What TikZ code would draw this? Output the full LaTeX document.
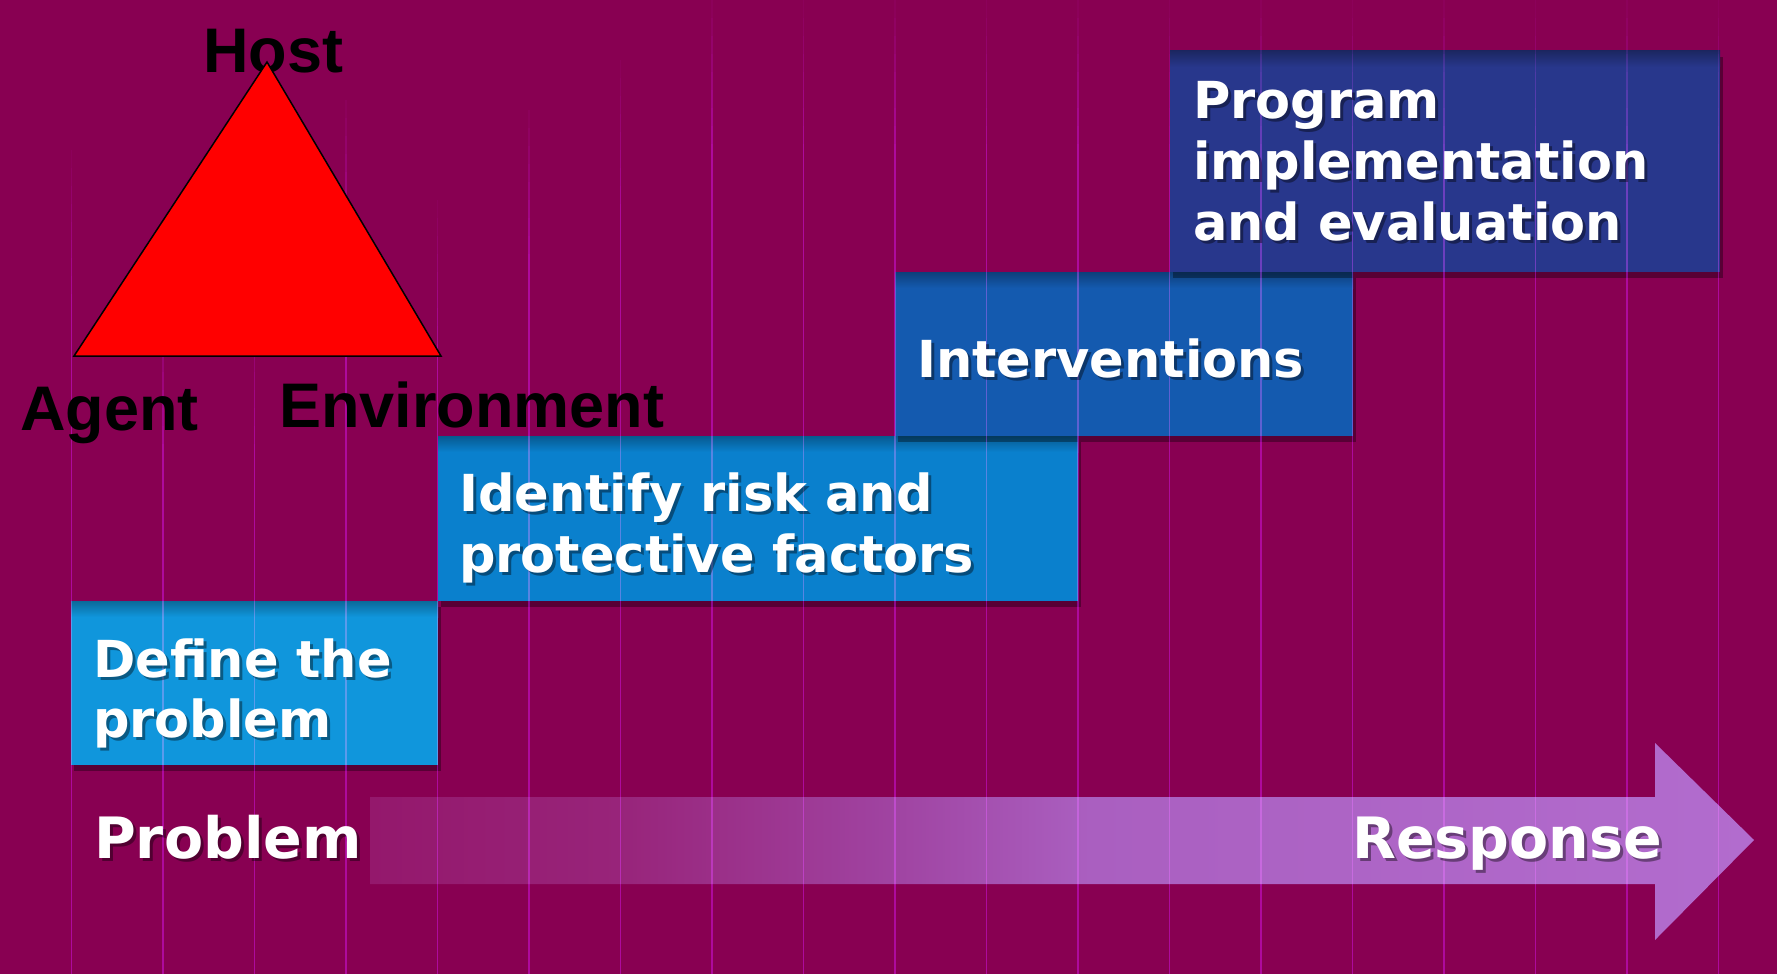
\documentclass[tikz,border=0pt]{standalone}
\usepackage{fontspec}
\newfontfamily\stepfont{DejaVu Sans}
\newfontfamily\labelfont{Liberation Sans}
\usetikzlibrary{shadows}

\definecolor{bg}{RGB}{136,0,82}
\definecolor{boxA}{RGB}{16,150,220}
\definecolor{boxB}{RGB}{10,128,205}
\definecolor{boxC}{RGB}{20,90,175}
\definecolor{boxD}{RGB}{40,55,140}
\definecolor{stripe}{RGB}{80,10,110}
\definecolor{arrowL}{RGB}{148,24,108}
\definecolor{arrowK}{RGB}{152,36,122}
\definecolor{arrowM}{RGB}{160,68,162}
\definecolor{arrowN}{RGB}{170,95,192}
\definecolor{arrowR}{RGB}{178,108,206}

\pgfdeclarehorizontalshading{arrowfade}{100bp}{color(0bp)=(arrowL); color(25bp)=(arrowL); color(34bp)=(arrowK); color(44bp)=(arrowM); color(51bp)=(arrowN); color(75bp)=(arrowR); color(100bp)=(arrowR)}

% white step label with a dark drop shadow: [style] name, x, baseline y, text
\newcommand{\steplabel}[5][steptext]{%
  \node[#1, text=black, text opacity=.4] (#2-shadow) at (#3+3,#4+3) {#5};
  \node[#1] (#2) at (#3,#4) {#5};}

\begin{document}
\begin{tikzpicture}[x=1pt,y=-1pt,
  stepbox/.style={rectangle, inner sep=0pt, outer sep=0pt, anchor=north west, draw=none,
    drop shadow={shadow xshift=3pt, shadow yshift=-6pt, opacity=.35, fill=black}},
  steptext/.style={text=white, inner sep=0pt, anchor=base west,
    font=\stepfont\bfseries\fontsize{51}{61}\selectfont},
  endtext/.style={steptext, font=\stepfont\bfseries\fontsize{57}{66}\selectfont},
  triangletext/.style={text=black, inner sep=0pt, anchor=base west,
    font=\labelfont\bfseries\fontsize{63}{70}\selectfont},
  stripeline/.style={draw=stripe, line width=1.7pt}]

\useasboundingbox (0,0) rectangle (1777,974);
\fill[bg] (0,0) rectangle (1777,974);

% the Problem -> Response arrow
\shade[shading=arrowfade] (370,797) -- (1655,797) -- (1655,743) -- (1754,840)
  -- (1655,940) -- (1655,884) -- (370,884) -- cycle;

% the four steps
\node[stepbox, fill=boxA, minimum width=367pt, minimum height=164pt] (b1) at (71,601) {};
\shade[top color=boxA!70!black, bottom color=boxA] (b1.north west) rectangle ([yshift=-16pt]b1.north east);
\node[stepbox, fill=boxB, minimum width=640pt, minimum height=165pt] (b2) at (438,436) {};
\shade[top color=boxB!70!black, bottom color=boxB] (b2.north west) rectangle ([yshift=-16pt]b2.north east);
\node[stepbox, fill=boxC, minimum width=458pt, minimum height=164pt] (b3) at (895,272) {};
\shade[top color=boxC!70!black, bottom color=boxC] (b3.north west) rectangle ([yshift=-16pt]b3.north east);
\node[stepbox, fill=boxD, minimum width=550pt, minimum height=221pt] (b4) at (1170,51) {};
\shade[top color=boxD!70!black, bottom color=boxD] (b4.north west) rectangle ([yshift=-16pt]b4.north east);

% vertical light stripes, fading in from the top
\begin{scope}[blend mode=screen]
\foreach \k/\s in {0/150,1/300,2/300,3/100,4/200,5/110,6/60,7/0,8/0,9/0,10/0,11/0,12/0,13/0,14/0,15/0,16/0,17/0,18/0}{
  \pgfmathsetmacro\xx{71.4+91.5*\k}
  \foreach \j in {1,...,8}{
    \pgfmathsetmacro\op{\j/9}
    \pgfmathsetmacro\ya{\s+(\j-1)*18}
    \pgfmathsetmacro\yb{\s+\j*18}
    \draw[stripeline, opacity=\op] (\xx,\ya) -- (\xx,\yb);
  }
  \pgfmathsetmacro\yc{\s+144}
  \draw[stripeline] (\xx,\yc) -- (\xx,974);
}
\end{scope}

% step texts
\steplabel{d1}{93}{677}{Define the}
\steplabel{d2}{93}{737}{problem}
\steplabel{r1}{459}{511}{Identify risk and}
\steplabel{r2}{459}{572}{protective factors}
\steplabel{i1}{917}{377}{Interventions}
\steplabel{p1}{1193}{118}{Program}
\steplabel{p2}{1193}{179}{implementation}
\steplabel{p3}{1193}{240}{and evaluation}
\steplabel[endtext]{prob}{94}{858}{Problem}
\steplabel[endtext]{resp}{1352}{858}{Response}

% epidemiologic triangle
\node[triangletext] (host) at (203,72) {Host};
\node[triangletext] (agent) at (20,430) {Agent};
\node[triangletext] (env) at (279,427) {Environment};
\draw[fill=red, draw=black, line width=1.5pt, line join=miter] (267,62) -- (74,356) -- (441,356) -- cycle;

\end{tikzpicture}
\end{document}
